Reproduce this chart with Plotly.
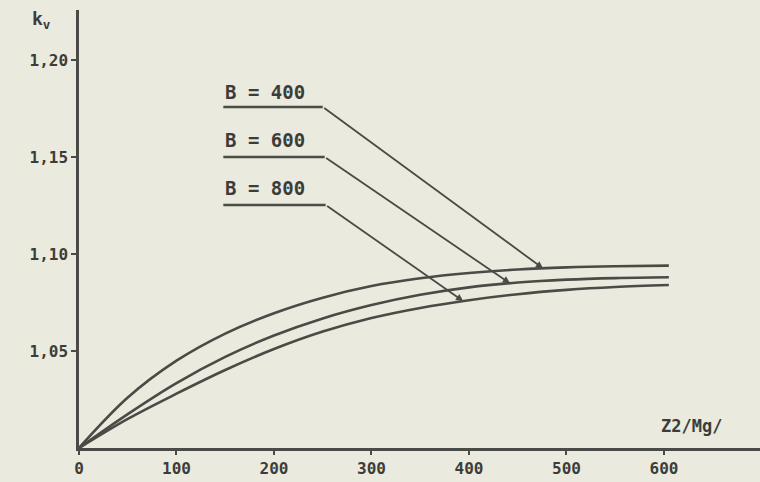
import numpy as np
import plotly.graph_objects as go

# ---- data ----
x_vals = [0, 50, 100, 150, 200, 250, 300, 350, 400, 450, 500, 550, 605]
kv_E400 = [1.000, 1.026, 1.045, 1.059, 1.0695, 1.0775, 1.0835, 1.0875, 1.0902, 1.092, 1.0931, 1.0937, 1.094]
kv_E600 = [1.000, 1.0175, 1.0335, 1.047, 1.058, 1.0668, 1.0737, 1.079, 1.0828, 1.0853, 1.0868, 1.0876, 1.088]
kv_E800 = [1.000, 1.015, 1.028, 1.0402, 1.051, 1.060, 1.067, 1.0722, 1.0762, 1.0793, 1.0815, 1.083, 1.084]
series_labels = ["B = 400", "B = 600", "B = 800"]
x_ticks = [0, 100, 200, 300, 400, 500, 600]
y_ticks = [1.05, 1.10, 1.15, 1.20]
y_ticktext = ["1,05", "1,10", "1,15", "1,20"]

# label placement (positions / style, not data)
label_x = 148
label_y = [1.1835, 1.1588, 1.134]
underline_y = [1.1758, 1.150, 1.1253]
underline_end = [250, 252, 253]
arrow_tip_x = [476, 442, 394]

INK = "#4a4a46"
BG = "#ebeadf"
FONT = "DejaVu Sans Mono"

fig = go.Figure()
for ys in (kv_E400, kv_E600, kv_E800):
    fig.add_trace(go.Scatter(x=x_vals, y=ys, mode="lines",
                             line=dict(color=INK, width=2.6, shape="spline", smoothing=1.0),
                             showlegend=False, hoverinfo="skip"))

for i, ys in enumerate((kv_E400, kv_E600, kv_E800)):
    tip_y = float(np.interp(arrow_tip_x[i], x_vals, ys))
    fig.add_shape(type="line", x0=label_x, x1=underline_end[i], y0=underline_y[i], y1=underline_y[i],
                  xref="x", yref="y", line=dict(color=INK, width=2.6))
    fig.add_annotation(x=arrow_tip_x[i], y=tip_y, ax=underline_end[i], ay=underline_y[i],
                       xref="x", yref="y", axref="x", ayref="y", text="",
                       showarrow=True, arrowhead=2, arrowsize=0.8, arrowwidth=1.8, arrowcolor=INK)
    fig.add_annotation(x=label_x, y=label_y[i], xref="x", yref="y", text="<b>%s</b>" % series_labels[i],
                       showarrow=False, xanchor="left", yanchor="middle",
                       font=dict(family=FONT, size=19, color="#3c3c38"))

fig.add_annotation(xref="paper", yref="paper", x=(30 - 79) / 681, y=(448 - 20) / 438,
                   text="<b>k<sub>v</sub></b>", showarrow=False, xanchor="left", yanchor="middle",
                   font=dict(family=FONT, size=18, color="#3c3c38"))
fig.add_annotation(xref="x", yref="y", x=595, y=1.0115, text="<b>Z2/Mg/</b>",
                   showarrow=False, xanchor="left", yanchor="middle",
                   font=dict(family=FONT, size=17, color="#3c3c38"))

fig.update_layout(
    width=760, height=482,
    paper_bgcolor=BG, plot_bgcolor=BG,
    margin=dict(l=79, r=0, t=10, b=34),
    showlegend=False,
    xaxis=dict(range=[0, 698.5], showgrid=False, zeroline=False, showline=True,
               linecolor=INK, linewidth=2.5, ticks="outside", ticklen=4, tickwidth=1.5,
               tickcolor=INK, tickvals=x_ticks, ticktext=["<b>%d</b>" % v for v in x_ticks],
               tickfont=dict(family=FONT, size=16, color="#3c3c38")),
    yaxis=dict(range=[1.0, 1.2258], showgrid=False, zeroline=False, showline=True,
               linecolor=INK, linewidth=2.5, ticks="outside", ticklen=5, tickwidth=1.5,
               tickcolor=INK, tickvals=y_ticks, ticktext=["<b>%s</b>" % t for t in y_ticktext],
               tickfont=dict(family=FONT, size=16, color="#3c3c38")),
)

fig.write_html("out.html", config={"displayModeBar": False},
               post_script="document.body.style.margin='0';document.body.style.background='%s';" % BG)
